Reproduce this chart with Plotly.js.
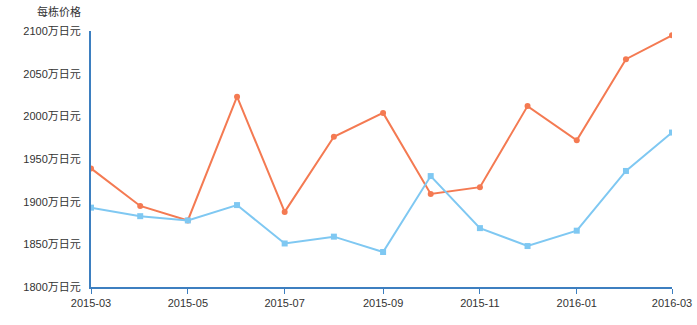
<!DOCTYPE html>
<html>
<head>
<meta charset="utf-8">
<script src="https://cdn.plot.ly/plotly-3.0.1.min.js"></script>
<style>html,body{margin:0;padding:0;background:#fff;}#chart{width:697px;height:325px;}</style>
</head>
<body>
<div id="chart"></div>
<script>
const months = ["2015-03-01","2015-04-01","2015-05-01","2015-06-01","2015-07-01","2015-08-01","2015-09-01","2015-10-01","2015-11-01","2015-12-01","2016-01-01","2016-02-01","2016-03-01"];
const seriesOrange = [1939, 1895, 1878, 2023, 1888, 1976, 2004, 1909, 1917, 2012, 1972, 2067, 2095];
const seriesBlue = [1893, 1883, 1878, 1896, 1851, 1859, 1841, 1930, 1869, 1848, 1866, 1936, 1981];
const yTitle = "每栋价格";
const ySuffix = "万日元";

const font = "'Liberation Sans', 'Noto Sans CJK SC', Arial, sans-serif";
const traces = [
  {x: months, y: seriesOrange, type: "scatter", mode: "lines+markers",
   line: {color: "#f47a52", width: 2}, marker: {symbol: "circle", size: 6, color: "#f47a52"}, name: "A"},
  {x: months, y: seriesBlue, type: "scatter", mode: "lines+markers",
   line: {color: "#7fc8f2", width: 2}, marker: {symbol: "square", size: 6, color: "#7fc8f2"}, name: "B"}
];
const layout = {
  width: 697, height: 325,
  margin: {l: 91, r: 25, t: 31, b: 38},
  paper_bgcolor: "#fff", plot_bgcolor: "#fff",
  showlegend: false,
  font: {family: font, size: 11, color: "#333"},
  xaxis: {type: "date", range: ["2015-03-01", "2016-03-01"], tick0: "2015-03-01", dtick: "M2",
    tickformat: "%Y-%m", showgrid: false, zeroline: false, showline: true, linecolor: "#3d7fc0", linewidth: 2,
    ticks: "outside", ticklen: 5, tickcolor: "#3d7fc0", tickwidth: 1, tickfont: {size: 11, color: "#333"}},
  yaxis: {range: [1800, 2100], dtick: 50, ticksuffix: ySuffix, showgrid: false, zeroline: false,
    showline: true, linecolor: "#3d7fc0", linewidth: 2, ticks: "", ticklabelstandoff: 6,
    tickfont: {size: 11, color: "#333"}},
  annotations: [{text: yTitle, xref: "paper", yref: "paper", x: 0, y: 1, xshift: -8, yshift: 20,
    xanchor: "right", yanchor: "middle", showarrow: false, font: {size: 11, color: "#333"}}]
};
Plotly.newPlot("chart", traces, layout, {displayModeBar: false, staticPlot: true});
</script>
</body>
</html>
